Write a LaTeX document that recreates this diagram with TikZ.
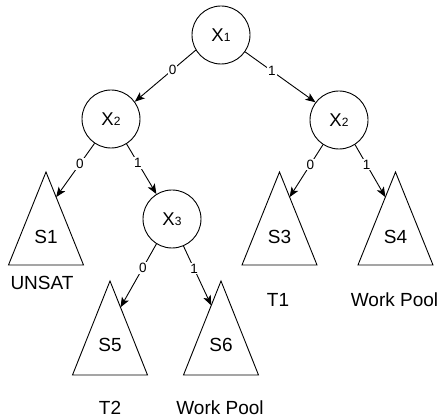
\documentclass[tikz,border=0pt]{standalone}
\usepackage{fontspec}
\setmainfont{Liberation Sans}
\usetikzlibrary{arrows.meta,calc}

\tikzset{
  var/.style={circle, draw, line width=0.9pt, minimum size=58pt, inner sep=0pt,
              font=\fontsize{18.5}{18.5}\selectfont},
  edge/.style={draw, line width=0.9pt, -{Stealth[length=10pt,width=8pt,inset=2.5pt]}},
  bit/.style={fill=white, inner sep=1pt, pos=0.38, font=\fontsize{13.5}{13.5}\selectfont},
  tri/.style={draw, line width=0.9pt, line join=miter},
  tlabel/.style={font=\fontsize{19}{19}\selectfont, inner sep=0pt},
  note/.style={font=\fontsize{19}{19}\selectfont, inner sep=0pt}
}
\newcommand{\xv}[1]{X\raisebox{-0.5pt}{\fontsize{12}{12}\selectfont #1}}

\begin{document}
\begin{tikzpicture}[x=1pt, y=-1pt]
  \useasboundingbox (0,0) rectangle (440,419);

  % decision variables
  \node[var] (X1)  at (221,35)  {\xv{1}};
  \node[var] (X2a) at (111,119) {\xv{2}};
  \node[var] (X2b) at (339,120) {\xv{2}};
  \node[var] (X3)  at (172,219) {\xv{3}};

  % subtrees: apex, left and right base corners
  \foreach \n/\x/\top/\bot in {S1/46/172/265, S3/279.5/172/265, S4/395.5/172/265,
                               S5/110/281/375, S6/221/281/375}{
    \coordinate (\n-t) at (\x,\top);
    \coordinate (\n-l) at (\x-37.5,\bot);
    \coordinate (\n-r) at (\x+37.5,\bot);
    \draw[tri] (\n-t) -- (\n-l) -- (\n-r) -- cycle;
  }
  \node[tlabel] (L1) at (46,237)    {S1};
  \node[tlabel] (L3) at (279.5,237) {S3};
  \node[tlabel] (L4) at (395.5,237) {S4};
  \node[tlabel] (L5) at (110,345)   {S5};
  \node[tlabel] (L6) at (221,345)   {S6};

  % arrow targets on the subtree sides
  \coordinate (S1-in) at ($(S1-t)!0.27!(S1-r)$);
  \coordinate (S3-in) at ($(S3-t)!0.27!(S3-r)$);
  \coordinate (S4-in) at ($(S4-t)!0.27!(S4-l)$);
  \coordinate (S5-in) at ($(S5-t)!0.28!(S5-r)$);
  \coordinate (S6-in) at ($(S6-t)!0.26!(S6-l)$);

  % branches
  \path[edge] (X1.211)  -- node[bit] (b1) {0} (X2a.36);
  \path[edge] (X1.325)  -- node[bit] (b2) {1} (X2b.143);
  \path[edge] (X2a.236) -- node[bit] (b3) {0} (S1-in);
  \path[edge] (X2a.302) -- node[bit] (b4) {1} (X3.122);
  \path[edge] (X2b.237) -- node[bit] (b5) {0} (S3-in);
  \path[edge] (X2b.303) -- node[bit] (b6) {1} (S4-in);
  \path[edge] (X3.238)  -- node[bit] (b7) {0} (S5-in);
  \path[edge] (X3.293)  -- node[bit] (b8) {1} (S6-in);

  % outcomes
  \node[note] (n1) at (42,283)    {UNSAT};
  \node[note] (n3) at (278,300)   {T1};
  \node[note] (n4) at (394.5,300) {Work Pool};
  \node[note] (n5) at (110,407.5) {T2};
  \node[note] (n6) at (220,407.5) {Work Pool};
\end{tikzpicture}
\end{document}
